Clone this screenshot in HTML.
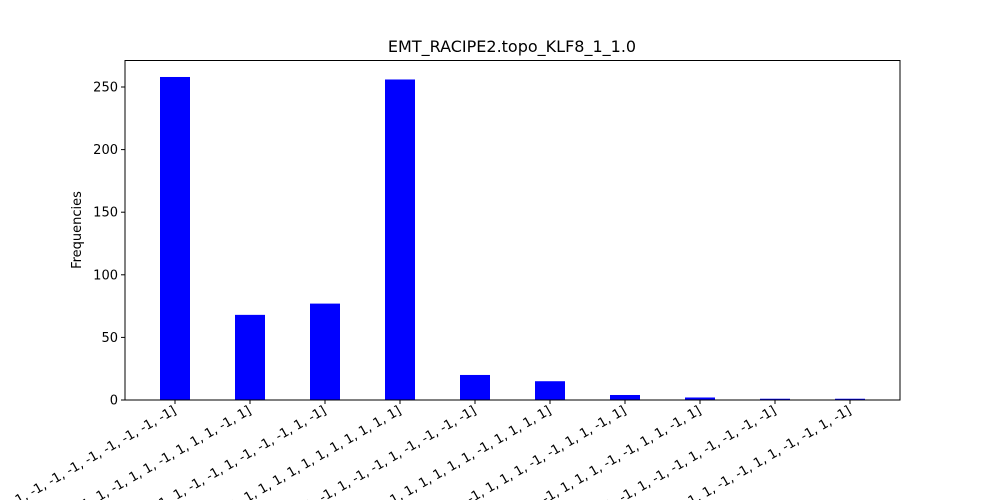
<!DOCTYPE html>
<html><head><meta charset="utf-8"><style>
html,body{margin:0;background:#fff;width:1000px;height:500px;overflow:hidden}
svg{font-family:"DejaVu Sans","Liberation Sans",sans-serif;display:block;overflow:hidden}
</style></head><body>
<svg id="chart" width="1000" height="500" viewBox="0 0 1000 500">
<defs><clipPath id="frame"><rect x="0" y="0" width="1000" height="500"/></clipPath></defs>
<rect width="1000" height="500" fill="#fff"/>
<text x="512" y="52" text-anchor="middle" font-size="16">EMT_RACIPE2.topo_KLF8_1_1.0</text>
<text transform="translate(81,230) rotate(-90)" text-anchor="middle" font-size="13">Frequencies</text>
<g id="bars"></g><g id="yticks"></g><g id="xticks" clip-path="url(#frame)"></g>
<rect x="125" y="60.5" width="775" height="339.5" fill="none" stroke="#000" stroke-width="1"/>
</svg>
<script>
const categories=["[-1, -1, -1, -1, -1, -1, -1, -1, -1, -1, -1, -1, -1, -1, -1]","[1, -1, 1, 1, -1, 1, 1, -1, 1, 1, -1, 1, 1, 1, -1, 1]","[1, -1, -1, 1, -1, -1, 1, -1, -1, 1, -1, -1, -1, 1, -1]","[1, 1, 1, 1, 1, 1, 1, 1, 1, 1, 1, 1, 1, 1, 1, 1]","[1, -1, -1, 1, -1, -1, -1, 1, -1, -1, 1, -1, -1, -1, -1]","[1, 1, 1, 1, -1, 1, 1, 1, 1, 1, -1, 1, 1, 1, 1]","[1, 1, 1, 1, -1, -1, 1, 1, 1, -1, -1, 1, 1, -1, 1]","[1, 1, 1, 1, -1, -1, 1, 1, 1, -1, -1, 1, 1, -1, 1]","[1, -1, -1, 1, -1, -1, 1, -1, -1, 1, -1, -1, -1, -1]","[1, -1, -1, 1, -1, -1, 1, 1, -1, -1, 1, 1, -1, -1, 1, -1]"];
const values=[258,68,77,256,20,15,4,2,1,1];
const yTicks=[0,50,100,150,200,250];
const ns="http://www.w3.org/2000/svg";
const x=i=>175+i*75;
const y=v=>400-v*1.252;
const bars=document.getElementById('bars'),yt=document.getElementById('yticks'),xt=document.getElementById('xticks');
values.forEach((v,i)=>{
 const r=document.createElementNS(ns,'rect');
 r.setAttribute('x',x(i)-15);r.setAttribute('width',30);
 r.setAttribute('y',y(v));r.setAttribute('height',400-y(v));r.setAttribute('fill','#0000ff');
 
 
 bars.appendChild(r);
});
yTicks.forEach(t=>{
 const l=document.createElementNS(ns,'line');
 l.setAttribute('x1',121);l.setAttribute('x2',125);l.setAttribute('y1',y(t));l.setAttribute('y2',y(t));l.setAttribute('stroke','#000');
 
 
 yt.appendChild(l);
 const s=document.createElementNS(ns,'text');
 s.setAttribute('x',118);s.setAttribute('y',y(t)+4.5);s.setAttribute('text-anchor','end');s.setAttribute('font-size','13');
 s.textContent=t;
 
 
 yt.appendChild(s);
});
categories.forEach((c,i)=>{
 const l=document.createElementNS(ns,'line');
 l.setAttribute('x1',x(i));l.setAttribute('x2',x(i));l.setAttribute('y1',400);l.setAttribute('y2',404);l.setAttribute('stroke','#000');
 
 
 xt.appendChild(l);
 const s=document.createElementNS(ns,'text');
 s.setAttribute('transform','translate('+(x(i)+2)+',413) rotate(-30)');
 s.setAttribute('text-anchor','end');s.setAttribute('font-size','13');
 s.textContent=c;
 
 
 xt.appendChild(s);
});
</script>
</body></html>
